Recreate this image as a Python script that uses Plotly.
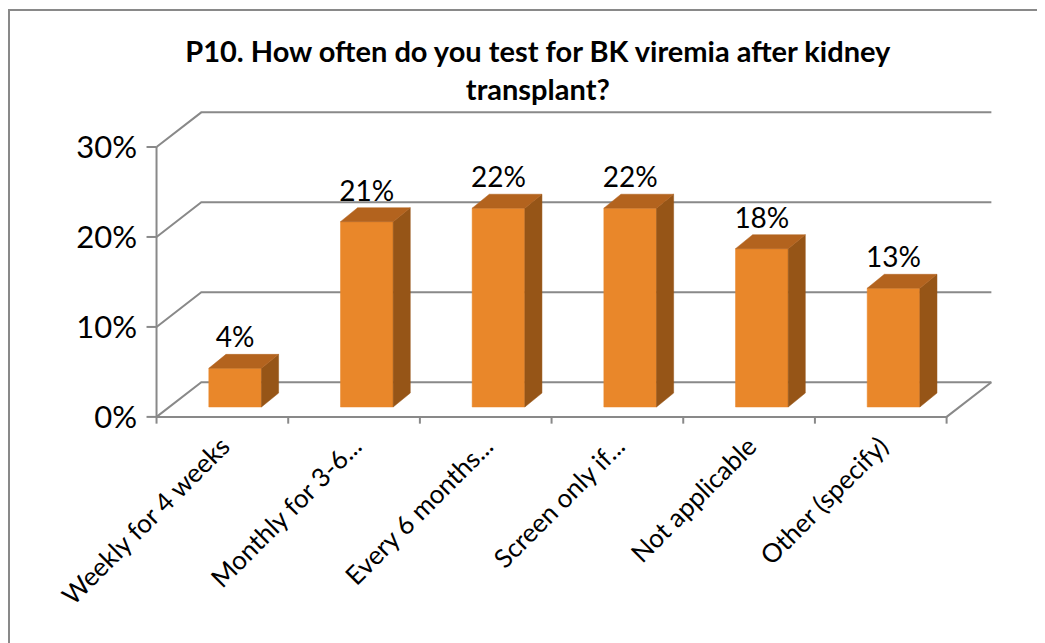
import plotly.graph_objects as go

# data
categories = ["Weekly for 4 weeks", "Monthly for 3-6...", "Every 6 months...",
              "Screen only if...", "Not applicable", "Other (specify)"]
values = [4.3, 20.6, 22.1, 22.1, 17.6, 13.2]   # percent
y_ticks = [0, 10, 20, 30]
y_ticktext = ["0%", "10%", "20%", "30%"]

title = "P10. How often do you test for BK viremia after kidney<br>transplant?"

# 3d look
W, H = 1045, 643
L, R, T, B = 138, 59, 103, 226
grid_col = "#898989"
front_col = "#E9872A"
side_col = "#965517"
top_col = "#B3631E"
font = "Lato, Open Sans, sans-serif"

n = len(categories)
x0, x1 = -0.5, n - 0.5
ddx, ddy = 0.34, 3.85          # depth of the floor / back wall
ox, oy = 0.097, 1.1            # bars sit mid-depth
bw = 0.40                      # bar width
bdx, bdy = 0.13, 1.55          # bar depth
tick_x, tick_y = 0.076, 0.75   # tick lengths in data units

xr = [x0 - 0.08, x1 + ddx + 0.02]
yr = [-0.9, y_ticks[-1] + ddy + 0.15]

fig = go.Figure()

# gridlines on the side + back wall
gx, gy = [], []
for t in y_ticks:
    gx += [x0, x0 + ddx, x1 + ddx, None]
    gy += [t, t + ddy, t + ddy, None]
# front floor edge and right edge
gx += [x0, x1, x1 + ddx, None]
gy += [0, 0, ddy, None]
# left axis
gx += [x0, x0, None]
gy += [0, y_ticks[-1], None]
# y ticks
for t in y_ticks:
    gx += [x0 - tick_x, x0, None]
    gy += [t, t, None]
# x ticks at category boundaries
for k in range(n + 1):
    gx += [x0 + k, x0 + k, None]
    gy += [0, -tick_y, None]
fig.add_trace(go.Scatter(x=gx, y=gy, mode="lines",
                         line=dict(color=grid_col, width=2),
                         hoverinfo="skip", showlegend=False))

# bar faces
fx, fy, sx, sy, tx, ty = [], [], [], [], [], []
for i, v in enumerate(values):
    l = i + ox - bw / 2
    r = i + ox + bw / 2
    top = v + oy
    fx += [l, r, r, l, l, None]
    fy += [oy, oy, top, top, oy, None]
    sx += [r, r + bdx, r + bdx, r, r, None]
    sy += [oy, oy + bdy, top + bdy, top, oy, None]
    tx += [l, r, r + bdx, l + bdx, l, None]
    ty += [top, top, top + bdy, top + bdy, top, None]

for px, py, c in [(fx, fy, front_col), (sx, sy, side_col), (tx, ty, top_col)]:
    fig.add_trace(go.Scatter(x=px, y=py, mode="lines", fill="toself",
                             fillcolor=c, line=dict(color=c, width=0.5),
                             hoverinfo="skip", showlegend=False))

# data labels
fig.add_trace(go.Scatter(
    x=[i + ox for i in range(n)],
    y=[v + oy + bdy for v in values],
    mode="text",
    text=[f"{v:.0f}%" for v in values],
    textposition="top center",
    textfont=dict(family=font, size=28, color="#000000"),
    hoverinfo="skip", showlegend=False, cliponaxis=False))

pw = W - L - R
ph = H - T - B


def paper_x(p):
    return (p - L) / pw


def paper_y(p):
    return (H - B - p) / ph


fig.update_layout(
    width=W, height=H,
    margin=dict(l=L, r=R, t=T, b=B),
    paper_bgcolor="white", plot_bgcolor="white",
    title=dict(text=title, x=0.507, xanchor="center", y=1 - 54 / H, yanchor="top",
               font=dict(family=font, size=29, color="#000000", weight="bold")),
    xaxis=dict(range=xr, tickvals=list(range(n)), ticktext=categories,
               tickangle=-45, showgrid=False, zeroline=False, showline=False,
               ticks="", tickfont=dict(family=font, size=26, color="#000000")),
    yaxis=dict(range=yr, tickvals=y_ticks, ticktext=y_ticktext,
               showgrid=False, zeroline=False, showline=False, ticks="",
               ticklabelstandoff=8,
               tickfont=dict(family=font, size=31, color="#000000")),
    shapes=[dict(type="rect", xref="paper", yref="paper",
                 x0=paper_x(1), x1=paper_x(1070),
                 y0=paper_y(670), y1=paper_y(2),
                 line=dict(color=grid_col, width=2), layer="below")],
)

fig.write_html("out.html")
